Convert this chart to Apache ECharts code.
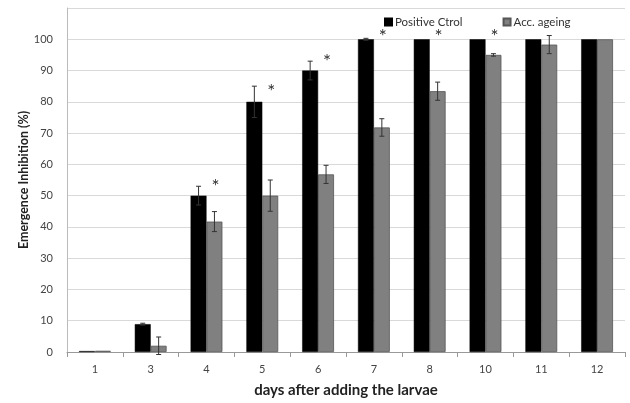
<!DOCTYPE html>
<html><head><meta charset="utf-8">
<script src="https://cdn.jsdelivr.net/npm/echarts@6/dist/echarts.min.js"></script>
<style>html,body{margin:0;padding:0;background:#fff}#c{width:630px;height:403px}</style>
</head><body><div id="c"></div>
<script>
var categories = ['1','3','4','5','6','7','8','10','11','12'];
var positiveCtrl = [0.3, 8.9, 50, 80, 90, 100, 100, 100, 100, 100];
var positiveErr  = [0, 0.3, 3, 5, 3, 0.3, 0, 0, 0, 0];
var accAgeing    = [0.4, 2, 41.7, 50, 56.8, 71.8, 83.4, 95, 98.3, 100];
var accErr       = [0, 2.8, 3.2, 5, 2.9, 2.8, 2.9, 0.4, 2.9, 0];
var sigMarks     = [null, null, 54, 84.5, 94, 102, 102, 102, null, null];
var yTicks = [0,10,20,30,40,50,60,70,80,90,100];

var FONT = 'Lato, "Open Sans", sans-serif';
var chart = echarts.init(document.getElementById('c'), null, {renderer:'canvas'});

function barOffset(api, which){
  var band = api.size([1,0])[0];
  var bw = band * (1 - 0.43) / 2;
  return which === 0 ? -bw/2 : bw/2;
}
function errRender(which, vals, errs){
  return function(params, api){
    var i = api.value(0);
    var v = vals[i], e = errs[i];
    if (!e) return;
    var off = barOffset(api, which);
    var top = api.coord([i, v + e]);
    var bot = api.coord([i, v - e]);
    var x = top[0] + off;
    var style = {stroke:'#333', lineWidth:1};
    return {type:'group', children:[
      {type:'line', shape:{x1:x,y1:top[1],x2:x,y2:bot[1]}, style:style},
      {type:'line', shape:{x1:x-2.5,y1:top[1],x2:x+2.5,y2:top[1]}, style:style},
      {type:'line', shape:{x1:x-2.5,y1:bot[1],x2:x+2.5,y2:bot[1]}, style:style}
    ]};
  };
}
var idx = categories.map(function(c,i){return [i];});
var sigData = [];
sigMarks.forEach(function(v,i){ if(v!=null) sigData.push([i,v]); });

chart.setOption({
  animation:false,
  textStyle:{fontFamily:FONT},
  grid:{left:67, right:5, top:8, bottom:50, containLabel:false},
  legend:{
    top:11, left:379, itemWidth:7, itemHeight:7, itemGap:40,
    icon:'rect',
    textStyle:{fontSize:11.5, color:'#333', fontFamily:FONT, padding:[0,0,0,-2]},
    data:['Positive Ctrol','Acc. ageing']
  },
  xAxis:{
    type:'category', data:categories,
    axisLine:{lineStyle:{color:'#999'}},
    axisTick:{show:true, length:5, lineStyle:{color:'#999'}},
    axisLabel:{fontSize:11, color:'#444', margin:12},
    name:'days after adding the larvae', nameLocation:'middle', nameGap:31,
    nameTextStyle:{fontSize:15, fontWeight:'bold', color:'#222'}
  },
  yAxis:{
    type:'value', min:0, max:110, interval:10,
    axisLine:{show:true, lineStyle:{color:'#bbb'}},
    axisTick:{show:false},
    splitLine:{lineStyle:{color:'#d9d9d9'}},
    axisLabel:{fontSize:11, color:'#444', margin:14,
      formatter:function(v){ return yTicks.indexOf(v) >= 0 ? String(v) : ''; }},
    name:'Emergence Inhibition (%)', nameLocation:'middle', nameGap:37, nameMoveOverlap:false,
    nameTextStyle:{fontSize:12.5, fontWeight:'bold', color:'#222'}
  },
  series:[
    {name:'Positive Ctrol', type:'bar', data:positiveCtrl, barGap:'0%', barCategoryGap:'43%',
      itemStyle:{color:'#000', borderColor:'#000', borderWidth:0.5}},
    {name:'Acc. ageing', type:'bar', data:accAgeing, barGap:'0%', barCategoryGap:'43%',
      itemStyle:{color:'#808080', borderColor:'#555', borderWidth:0.8}},
    {type:'custom', data:idx, renderItem:errRender(0, positiveCtrl, positiveErr), z:5, silent:true},
    {type:'custom', data:idx, renderItem:errRender(1, accAgeing, accErr), z:5, silent:true},
    {type:'custom', data:sigData, z:6, silent:true,
      renderItem:function(params, api){
        var p = api.coord([api.value(0), api.value(1)]);
        var x = p[0] + barOffset(api,1) + 1;
        return {type:'text', style:{text:'*', x:x, y:p[1]+4, align:'center', verticalAlign:'middle',
          font:'normal 19px ' + FONT, fill:'#333'}};
      }}
  ]
});
</script></body></html>
